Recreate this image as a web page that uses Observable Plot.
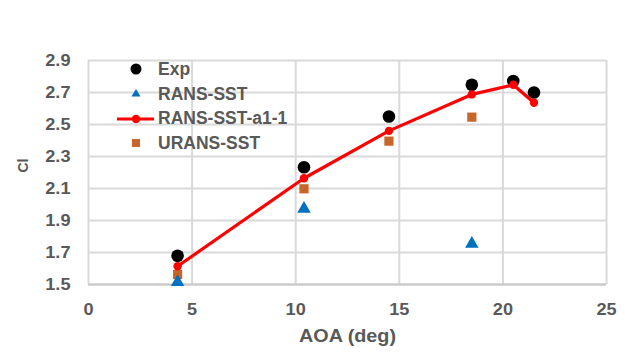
<!DOCTYPE html>
<html><head><meta charset="utf-8">
<script src="https://cdn.jsdelivr.net/npm/d3@7"></script>
<script src="https://cdn.jsdelivr.net/npm/@observablehq/plot@0.6"></script>
<style>
body{margin:0;background:#fff;font-family:"Liberation Sans",Arial,sans-serif;}
#wrap{position:relative;width:625px;height:358px;}
#legend{position:absolute;left:114px;top:57px;font:bold 17.5px "Liberation Sans",Arial,sans-serif;color:#595959;}
#legend .row{display:flex;align-items:center;height:24.7px;}
#legend svg{width:44px;height:20px;margin-right:0px;}
</style></head><body>
<div id="wrap"><div id="legend"></div></div>
<script>
const expX = [4.3, 10.4, 14.5, 18.5, 20.5, 21.5];
const expY = [1.68, 2.233, 2.55, 2.748, 2.772, 2.70];
const ransX = [4.3, 10.4, 18.5];
const ransY = [1.515, 1.973, 1.754];
const a1X = [4.3, 10.4, 14.5, 18.5, 20.5, 21.5];
const a1Y = [1.614, 2.164, 2.46, 2.688, 2.748, 2.636];
const uransX = [4.3, 10.4, 14.5, 18.5];
const uransY = [1.5625, 2.098, 2.396, 2.546];
const xTicks = [0, 5, 10, 15, 20, 25];
const yTicks = [1.5, 1.7, 1.9, 2.1, 2.3, 2.5, 2.7, 2.9];
const seriesNames = ["Exp", "RANS-SST", "RANS-SST-a1-1", "URANS-SST"];
const xLabel = "AOA (deg)";
const yLabel = "Cl";
const colors = {exp:"#000000", rans:"#0070C0", a1:"#FF0000", urans:"#C8662A"};
const grid = "#d9d9d9";
const textColor = "#595959";
const font = '"Liberation Sans", Arial, sans-serif';

const zip = (xs, ys) => xs.map((x,i)=>({x, y: ys[i]}));
const exp = zip(expX, expY), rans = zip(ransX, ransY), a1 = zip(a1X, a1Y), urans = zip(uransX, uransY);

const chart = Plot.plot({
  width: 625, height: 358,
  marginLeft: 88, marginRight: 19, marginTop: 60, marginBottom: 74,
  style: {fontFamily: font, fontSize: "16px", fontWeight: "bold", color: textColor, background: "#fff"},
  x: {domain: [0, 25]},
  y: {domain: [1.5, 2.9]},
  marks: [
    Plot.gridX(xTicks, {stroke: grid, strokeOpacity: 1, strokeWidth: 2}),
    Plot.gridY(yTicks, {stroke: grid, strokeOpacity: 1, strokeWidth: 2}),
    Plot.ruleY([1.5], {stroke: "#c8c8c8", strokeWidth: 2}),
    Plot.axisX({ticks: xTicks, tickSize: 0, tickPadding: 19, label: null, tickFormat: d3.format("d"), fill: textColor, fontSize: 16.5, fontWeight: "bold"}),
    Plot.axisY({ticks: yTicks, tickSize: 0, tickPadding: 18, label: null, tickFormat: d3.format(".1f"), fill: textColor, fontSize: 16.5, fontWeight: "bold"}),
    Plot.text([xLabel], {frameAnchor: "bottom", dy: 57, fill: textColor, fontSize: 18, fontWeight: "bold"}),
    Plot.text([yLabel], {frameAnchor: "left", dx: -65, rotate: -90, fill: textColor, fontSize: 14, fontWeight: "bold"}),
    Plot.dot(urans, {x: "x", y: "y", symbol: "square", r: 5.2, fill: colors.urans}),
    Plot.dot(rans, {x: "x", y: "y", symbol: "triangle", r: 5, fill: colors.rans}),
    Plot.dot(exp, {x: "x", y: "y", r: 6.3, fill: colors.exp}),
    Plot.line(a1, {x: "x", y: "y", stroke: colors.a1, strokeWidth: 3.2}),
    Plot.dot(a1, {x: "x", y: "y", r: 4.2, fill: colors.a1})
  ]
});
document.getElementById("wrap").prepend(chart);

// the reference's text is slightly wider than Liberation Sans: stretch horizontally
d3.select(chart).selectAll("text").each(function() {
  const s = this.textContent.trim();
  if (s === yLabel) return;
  const k = 1.1;
  const t = this.getAttribute("transform") || "";
  this.setAttribute("transform", (t + ` scale(${k},1)`).trim());
});

const legend = document.getElementById("legend");
const icons = [
  `<circle cx="22" cy="10" r="5.5" fill="${colors.exp}"/>`,
  `<path d="M22 5 L26.5 12.5 L17.5 12.5 Z" fill="${colors.rans}"/>`,
  `<line x1="3" y1="10" x2="40" y2="10" stroke="${colors.a1}" stroke-width="3.2"/><circle cx="22" cy="10" r="4.2" fill="${colors.a1}"/>`,
  `<rect x="18" y="6" width="8" height="8" fill="${colors.urans}"/>`
];
seriesNames.forEach((n,i)=>{
  const row = document.createElement("div");
  row.className = "row";
  row.innerHTML = `<svg viewBox="0 0 44 20">${icons[i]}</svg><span>${n}</span>`;
  legend.appendChild(row);
});
</script>
</body></html>
